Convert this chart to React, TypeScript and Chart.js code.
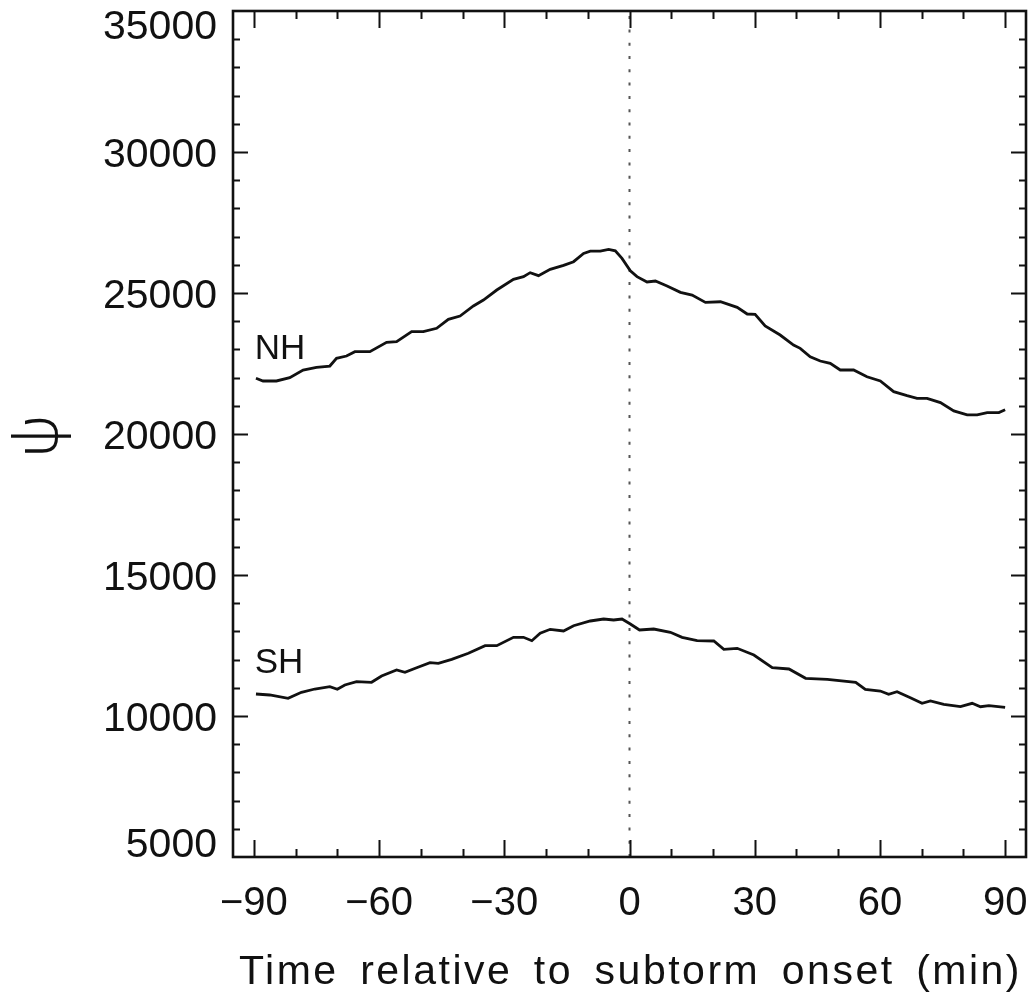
import React, { useEffect, useRef } from 'react';
import { Chart, registerables } from 'chart.js';

Chart.register(...registerables);

// ---- Data ----
const nhTime = [
  -89.5, -87.8, -84.6, -81.4, -78.2, -75.0, -71.8, -70.2, -67.8, -65.8, -62.2, -58.2, -55.8, -52.2,
  -49.4, -46.2, -43.4, -40.6, -37.4, -35.0, -31.8, -27.8, -25.4, -23.8, -21.8, -19.0, -15.8, -13.4,
  -11.0, -9.4, -7.0, -5.0, -3.4, -1.8, 0.2, 1.8, 4.2, 6.2, 9.0, 12.2, 15.0, 18.2, 21.8, 25.8, 28.2,
  30.1, 32.5, 36.1, 39.3, 40.9, 43.3, 45.7, 48.1, 50.5, 53.7, 56.9, 60.1, 63.3, 66.5, 68.9, 71.3,
  74.5, 77.7, 80.9, 83.3, 85.7, 88.5, 90.0,
];
const nhPsi = [
  21975, 21880, 21880, 21996, 22269, 22365, 22410, 22684, 22765, 22918, 22918, 23251, 23273, 23628,
  23628, 23748, 24067, 24184, 24539, 24751, 25106, 25485, 25580, 25721, 25614, 25840, 25982, 26110,
  26405, 26487, 26487, 26546, 26497, 26228, 25790, 25580, 25390, 25424, 25247, 25023, 24927, 24668,
  24690, 24492, 24255, 24244, 23829, 23510, 23155, 23038, 22740, 22588, 22506, 22269, 22269, 22031,
  21879, 21500, 21358, 21266, 21266, 21115, 20821, 20679, 20679, 20761, 20761, 20857,
];
const shTime = [
  -89.5, -86.2, -81.8, -78.6, -75.4, -71.8, -70.0, -68.2, -65.4, -61.8, -59.4, -55.8, -53.8, -51.0,
  -47.8, -45.8, -42.6, -38.6, -34.6, -31.8, -27.8, -25.4, -23.4, -21.4, -19.0, -15.8, -13.4, -9.4,
  -6.2, -3.8, -1.8, 0.2, 2.4, 5.8, 9.8, 12.6, 16.2, 20.2, 22.6, 25.8, 29.8, 34.2, 38.2, 42.2, 47.4,
  54.2, 56.5, 60.1, 62.1, 64.1, 67.3, 70.1, 72.1, 75.3, 79.3, 82.1, 84.1, 86.1, 90.0,
];
const shPsi = [
  10780, 10745, 10627, 10840, 10957, 11039, 10947, 11099, 11216, 11195, 11418, 11631, 11549, 11713,
  11890, 11868, 12010, 12223, 12493, 12493, 12791, 12791, 12670, 12932, 13074, 13014, 13202, 13369,
  13440, 13404, 13440, 13262, 13049, 13085, 12967, 12790, 12670, 12660, 12365, 12400, 12163, 11713,
  11667, 11337, 11301, 11195, 10947, 10886, 10770, 10862, 10649, 10450, 10532, 10415, 10330, 10450,
  10330, 10365, 10308,
];
const onsetTime = [0, 0];
const onsetPsi = [5000, 35000];

const xTickValues = [-90, -60, -30, 0, 30, 60, 90];
const xTickLabels = ['\u221290', '\u221260', '\u221230', '0', '30', '60', '90'];
const yTickValues = [5000, 10000, 15000, 20000, 25000, 30000, 35000];
const yTickLabels = ['5000', '10000', '15000', '20000', '25000', '30000', '35000'];
const xAxisTitle = 'Time relative to subtorm onset (min)';
const yAxisTitle = '\u03C8';
const seriesNames = ['NH', 'SH'];
const seriesLabelAnchors = [
  { x: -89.8, y: 23013 },
  { x: -89.8, y: 11862 },
];

const INK = '#111111';
const FONT = '"Liberation Sans", Arial, sans-serif';

const framePlugin = {
  id: 'idlFrame',
  afterDraw(chart: any) {
    const { ctx, chartArea, scales } = chart;
    const { left, right, top, bottom } = chartArea;
    const xs = scales.x;
    const ys = scales.y;
    ctx.save();
    ctx.strokeStyle = INK;
    ctx.fillStyle = INK;

    // minor / major ticks, pointing inward on all four sides
    ctx.lineWidth = 2;
    ctx.beginPath();
    for (let v = Math.ceil(xs.min / 10) * 10; v <= xs.max; v += 10) {
      const px = Math.round(xs.getPixelForValue(v)) + 0.5;
      const len = xTickValues.includes(v) ? 17 : 8;
      ctx.moveTo(px, bottom);
      ctx.lineTo(px, bottom - len);
      ctx.moveTo(px, top);
      ctx.lineTo(px, top + len);
    }
    for (let v = ys.min + 1000; v < ys.max; v += 1000) {
      const py = Math.round(ys.getPixelForValue(v)) + 0.5;
      const len = yTickValues.includes(v) ? 15 : 7;
      ctx.moveTo(left, py);
      ctx.lineTo(left + len, py);
      ctx.moveTo(right, py);
      ctx.lineTo(right - len, py);
    }
    ctx.stroke();

    // box
    ctx.lineWidth = 2.6;
    ctx.strokeRect(left, top, right - left, bottom - top);

    // y tick labels (end labels kept inside the frame height)
    ctx.font = `41px ${FONT}`;
    ctx.textAlign = 'right';
    ctx.textBaseline = 'alphabetic';
    yTickValues.forEach((v, i) => {
      const py = ys.getPixelForValue(v);
      const base = Math.min(Math.max(py + 14.5, top + 28), bottom);
      ctx.fillText(yTickLabels[i], left - 16, base);
    });

    // x tick labels
    ctx.font = `40px ${FONT}`;
    ctx.textAlign = 'center';
    xTickValues.forEach((v, i) => {
      ctx.fillText(xTickLabels[i], xs.getPixelForValue(v), 915);
    });

    // x axis title
    const c: any = ctx;
    ctx.font = `41px ${FONT}`;
    c.letterSpacing = '2.5px';
    c.wordSpacing = '0px';
    const w = ctx.measureText(xAxisTitle).width;
    const target = 783;
    const gaps = xAxisTitle.split(' ').length - 1;
    if (w < target && gaps > 0) c.wordSpacing = `${(target - w) / gaps}px`;
    ctx.textAlign = 'center';
    ctx.fillText(xAxisTitle, (left + right) / 2 + 1, 984);
    c.wordSpacing = '0px';
    c.letterSpacing = '0px';

    // y axis title (rotated psi)
    ctx.save();
    ctx.translate(40, (top + bottom) / 2 + 2);
    ctx.rotate(-Math.PI / 2);
    ctx.font = `300 60px "Noto Sans", "Open Sans", sans-serif`;
    ctx.textAlign = 'center';
    ctx.textBaseline = 'middle';
    ctx.fillText(yAxisTitle, 0, 0);
    ctx.restore();

    // series labels
    ctx.font = `35px ${FONT}`;
    ctx.textAlign = 'left';
    ctx.textBaseline = 'middle';
    seriesNames.forEach((name, i) => {
      const a = seriesLabelAnchors[i];
      ctx.fillText(name, xs.getPixelForValue(a.x), ys.getPixelForValue(a.y));
    });

    ctx.restore();
  },
};

export default function App() {
  const canvasRef = useRef<HTMLCanvasElement | null>(null);

  useEffect(() => {
    const canvas = canvasRef.current;
    if (!canvas) return;
    const toPoints = (xsArr: number[], ysArr: number[]) => xsArr.map((t, i) => ({ x: t, y: ysArr[i] }));
    const chart = new Chart(canvas, {
      type: 'scatter',
      data: {
        datasets: [
          {
            label: 'onset',
            data: toPoints(onsetTime, onsetPsi),
            showLine: true,
            borderColor: '#555555',
            borderWidth: 2,
            borderDash: [3, 10.3],
            pointRadius: 0,
            order: 3,
          },
          {
            label: seriesNames[0],
            data: toPoints(nhTime, nhPsi),
            showLine: true,
            borderColor: INK,
            borderWidth: 2.8,
            pointRadius: 0,
            tension: 0,
            order: 1,
          },
          {
            label: seriesNames[1],
            data: toPoints(shTime, shPsi),
            showLine: true,
            borderColor: INK,
            borderWidth: 2.8,
            pointRadius: 0,
            tension: 0,
            order: 2,
          },
        ],
      },
      options: {
        animation: false,
        responsive: false,
        devicePixelRatio: 1,
        events: [],
        layout: { padding: { left: 233, top: 11, right: 6, bottom: 139 } },
        plugins: { legend: { display: false }, tooltip: { enabled: false } },
        scales: {
          x: { type: 'linear', min: -95, max: 95, display: false },
          y: { type: 'linear', min: 5000, max: 35000, display: false },
        },
      },
      plugins: [framePlugin],
    });
    return () => chart.destroy();
  }, []);

  return (
    <div style={{ position: 'absolute', left: 0, top: 0, width: 1032, height: 996, background: '#fff' }}>
      <canvas ref={canvasRef} width={1032} height={996} style={{ display: 'block' }} />
    </div>
  );
}
